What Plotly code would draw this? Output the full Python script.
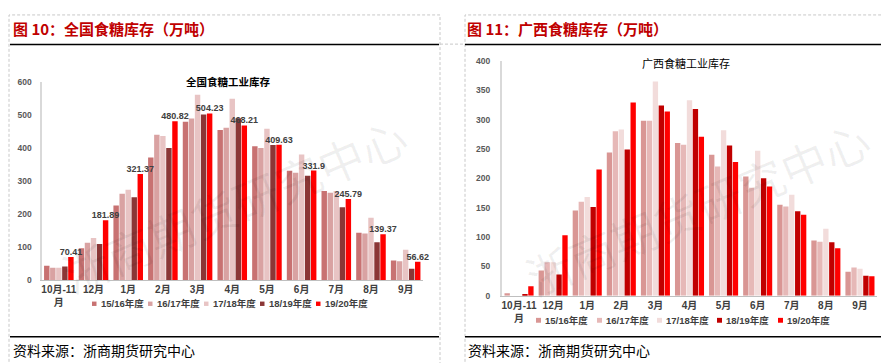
import plotly.graph_objects as go

# ---------------- data ----------------
categories = ["10月-11<br>月", "12月", "1月", "2月", "3月", "4月", "5月", "6月", "7月", "8月", "9月"]
seasons = ["15/16年度", "16/17年度", "17/18年度", "18/19年度", "19/20年度"]

national_1516 = [44, 97, 226, 371, 479, 454, 405, 331, 270, 144, 60]
national_1617 = [38, 114, 262, 440, 489, 461, 400, 325, 265, 142, 58]
national_1718 = [38, 128, 274, 436, 561, 549, 458, 380, 270, 189, 93]
national_1819 = [42, 110, 251, 400, 501, 490, 409, 316, 221, 115, 35]
national_1920 = [70.41, 181.89, 321.37, 480.82, 504.23, 468.21, 409.63, 331.9, 245.79, 139.37, 56.62]

guangxi_1516 = [4, 43, 145, 244, 298, 260, 240, 203, 155, 94, 41]
guangxi_1617 = [0, 57, 160, 280, 298, 257, 220, 184, 152, 92, 48]
guangxi_1718 = [0, 57, 168, 283, 365, 333, 282, 247, 172, 114, 46]
guangxi_1819 = [3, 36, 151, 249, 324, 318, 256, 200, 144, 91, 34]
guangxi_1920 = [16, 103, 215, 329, 314, 271, 228, 186, 138, 81, 33]

national_y_ticks = [0, 100, 200, 300, 400, 500, 600]
guangxi_y_ticks = [0, 50, 100, 150, 200, 250, 300, 350, 400]

# ---------------- styling ----------------
W, H = 889, 363
CJK = "Noto Sans CJK SC"
NUM = "Liberation Sans, Noto Sans CJK SC"
left_colors = ["#C87272", "#D9A2A2", "#E8C4C4", "#8B3636", "#FF0000"]
right_colors = ["#D99694", "#E6B8B7", "#F2DCDB", "#C00000", "#FF0000"]


def px(x):
    return x / W


def py(y):
    return 1 - y / H


fig = go.Figure()

national = [national_1516, national_1617, national_1718, national_1819, national_1920]
guangxi = [guangxi_1516, guangxi_1617, guangxi_1718, guangxi_1819, guangxi_1920]

for i, name in enumerate(seasons):
    vals = national[i]
    is_last = i == len(seasons) - 1
    fig.add_trace(go.Bar(
        x=categories, y=vals, name=name, xaxis="x", yaxis="y",
        marker=dict(color=left_colors[i], line=dict(width=0)),
        text=[f"{v:g}" for v in vals] if is_last else None,
        textposition="outside" if is_last else None,
        constraintext="none", cliponaxis=False,
        textfont=dict(family=NUM, size=9, color="#404040", weight="bold"),
        showlegend=False,
    ))

for i, name in enumerate(seasons):
    fig.add_trace(go.Bar(
        x=categories, y=guangxi[i], name=name, xaxis="x2", yaxis="y2",
        marker=dict(color=right_colors[i], line=dict(width=0)),
        showlegend=False,
    ))

tickfont_x = dict(family=NUM, size=10, color="#404040", weight="bold")
tickfont_y = dict(family=NUM, size=8.5, color="#595959", weight="bold")

fig.update_layout(
    width=W, height=H, margin=dict(l=0, r=0, t=0, b=0),
    paper_bgcolor="white", plot_bgcolor="white",
    barmode="group", bargap=0.13, bargroupgap=0.1,
    xaxis=dict(domain=[px(33.5), px(415)], anchor="y", showline=True, linecolor="#BFBFBF",
               linewidth=1, showgrid=False, ticks="", tickfont=tickfont_x, fixedrange=True),
    yaxis=dict(domain=[py(275), py(70.7)], anchor="x", range=[0, 600], tickvals=national_y_ticks,
               showline=True, linecolor="#D9D9D9", linewidth=2, showgrid=False, zeroline=False,
               ticks="outside", ticklen=6, tickcolor="rgba(0,0,0,0)", tickfont=tickfont_y),
    xaxis2=dict(domain=[px(494), px(869)], anchor="y2", showline=True, linecolor="#BFBFBF",
                linewidth=1, showgrid=False, ticks="", tickfont=tickfont_x),
    yaxis2=dict(domain=[py(290.7), py(49.3)], anchor="x2", range=[0, 400], tickvals=guangxi_y_ticks,
                showline=True, linecolor="#D9D9D9", linewidth=2, showgrid=False, zeroline=False,
                ticks="outside", ticklen=8, tickcolor="rgba(0,0,0,0)", tickfont=tickfont_y),
)

shapes = []
annotations = []
dash_style = dict(color="#C8C8C8", width=1, dash="3px,2px")
# panel (table cell) borders
shapes.append(dict(type="rect", xref="paper", yref="paper", x0=px(1), x1=px(432), y0=py(361), y1=py(2), line=dash_style))
shapes.append(dict(type="rect", xref="paper", yref="paper", x0=px(457), x1=px(888), y0=py(361), y1=py(2), line=dash_style))
shapes.append(dict(type="line", xref="paper", yref="paper", x0=px(432), x1=px(457), y0=py(32), y1=py(32), line=dash_style))
# black rules
for (a, b) in [(2, 431), (457, 889)]:
    for yy in (32.5, 333):
        shapes.append(dict(type="line", xref="paper", yref="paper", x0=px(a), x1=px(b), y0=py(yy), y1=py(yy),
                           line=dict(color="black", width=1.5)))

# titles
annotations.append(dict(text="图 10：全国食糖库存（万吨）", x=px(3), y=py(16), xref="paper", yref="paper",
                        xanchor="left", yanchor="middle", showarrow=False,
                        font=dict(family=CJK, size=15, color="#C00000", weight="bold")))
annotations.append(dict(text="图 11：广西食糖库存（万吨）", x=px(457), y=py(16), xref="paper", yref="paper",
                        xanchor="left", yanchor="middle", showarrow=False,
                        font=dict(family=CJK, size=15, color="#C00000", weight="bold")))
# chart inner titles
annotations.append(dict(text="全国食糖工业库存", x=px(220), y=py(70), xref="paper", yref="paper",
                        xanchor="center", yanchor="middle", showarrow=False,
                        font=dict(family=CJK, size=10.5, color="#000000", weight="bold")))
annotations.append(dict(text="广西食糖工业库存", x=px(678), y=py(51), xref="paper", yref="paper",
                        xanchor="center", yanchor="middle", showarrow=False,
                        font=dict(family=CJK, size=11, color="#000000")))
# sources
for xx in (3, 458):
    annotations.append(dict(text="资料来源：浙商期货研究中心", x=px(xx), y=py(347), xref="paper", yref="paper",
                            xanchor="left", yanchor="middle", showarrow=False,
                            font=dict(family=CJK, size=14, color="#000000")))
# watermarks
for (cx, cy) in [(226, 196), (689, 199)]:
    annotations.append(dict(text="浙商期货研究中心", x=px(cx), y=py(cy), xref="paper", yref="paper",
                            xanchor="center", yanchor="middle", showarrow=False, textangle=-23,
                            font=dict(family=CJK, size=46, color="rgba(0,0,0,0.06)")))

# manual legends
legend_specs = [
    (left_colors, [84, 140, 196, 252, 308], 299, 4.5),
    (right_colors, [528, 589, 649, 709, 770], 316, 5),
]
for colors, xs, ly, sz in legend_specs:
    for c, x0, name in zip(colors, xs, seasons):
        shapes.append(dict(type="rect", xref="paper", yref="paper", x0=px(x0), x1=px(x0 + sz),
                           y0=py(ly + sz / 2), y1=py(ly - sz / 2), fillcolor=c, line=dict(width=0)))
        annotations.append(dict(text=name, x=px(x0 + sz + 2), y=py(ly), xref="paper", yref="paper",
                                xanchor="left", yanchor="middle", showarrow=False,
                                font=dict(family=NUM, size=9.5, color="#404040", weight="bold")))

fig.update_layout(shapes=shapes, annotations=annotations)
fig.write_html("out.html")
